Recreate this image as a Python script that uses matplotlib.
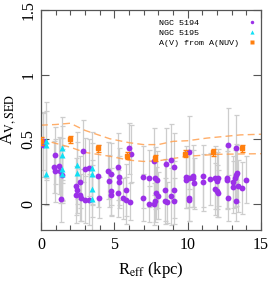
import matplotlib
matplotlib.use("Agg")
import matplotlib.pyplot as plt
import numpy as np

# NGC 5194 (purple circles)
r5194 = [0.12, 0.15, 0.93, 0.86, 0.93, 1.25, 1.30, 1.45, 1.39, 2.86, 2.66, 2.39, 2.48, 2.68, 2.41,
         2.98, 3.25, 2.98, 3.25, 2.75, 3.91, 3.93, 4.55, 4.75, 4.61, 4.75, 4.80, 5.25, 5.30, 5.30,
         5.25, 5.80, 5.60, 5.80, 6.02, 6.13, 6.10, 6.98, 6.98, 7.38, 7.38, 7.68, 7.70, 7.80, 7.90,
         7.82, 7.95, 7.75, 8.47, 8.47, 8.54, 8.60, 8.84, 8.84, 9.07, 9.07, 9.07, 9.90, 9.90, 10.10,
         10.07, 10.34, 10.40, 10.47, 10.10, 10.07, 11.06, 11.06, 11.52, 11.84, 12.05, 12.00, 11.84, 12.00, 12.05,
         12.75, 12.70, 12.70, 12.75, 13.30, 13.30, 13.40, 13.25, 13.07, 13.07, 13.43, 13.70, 13.30, 14.00]
a5194 = [0.485, 0.46, 0.377, 0.29, 0.26, 0.295, 0.26, 0.227, 0.041, 0.41, 0.17, 0.14, 0.11, 0.072, 0.072,
         0.27, 0.28, 0.036, 0.036, 0.05, 0.22, 0.05, 0.26, 0.23, 0.18, 0.10, 0.07, 0.29, 0.21, 0.17,
         0.085, 0.11, 0.045, 0.03, 0.43, 0.39, 0.02, 0.21, 0.05, 0.20, 0.0, 0.0, 0.33, 0.20, 0.19,
         0.085, 0.065, 0.026, 0.11, 0.026, 0.31, 0.015, 0.34, 0.06, 0.29, 0.11, 0.026, 0.21, 0.19, 0.40,
         0.20, 0.22, 0.20, 0.16, 0.047, 0.03, 0.22, 0.17, 0.196, 0.206, 0.206, 0.18, 0.116, 0.10, 0.085,
         0.46, 0.206, 0.19, 0.047, 0.43, 0.227, 0.24, 0.20, 0.17, 0.13, 0.14, 0.124, 0.028, 0.19]
e5194 = [0.22, 0.25, 0.22, 0.20, 0.24, 0.22, 0.25, 0.20, 0.18, 0.24, 0.20, 0.22, 0.18, 0.20, 0.22,
         0.24, 0.22, 0.18, 0.20, 0.18, 0.24, 0.16, 0.22, 0.24, 0.20, 0.18, 0.16, 0.26, 0.22, 0.20,
         0.18, 0.20, 0.16, 0.18, 0.20, 0.22, 0.14, 0.24, 0.18, 0.22, 0.14, 0.16, 0.26, 0.24, 0.22,
         0.20, 0.18, 0.16, 0.24, 0.18, 0.28, 0.16, 0.28, 0.22, 0.26, 0.22, 0.18, 0.24, 0.22, 0.28,
         0.22, 0.24, 0.22, 0.20, 0.18, 0.16, 0.24, 0.22, 0.20, 0.24, 0.22, 0.22, 0.20, 0.20, 0.18,
         0.28, 0.24, 0.22, 0.18, 0.26, 0.24, 0.22, 0.22, 0.20, 0.20, 0.20, 0.20, 0.16, 0.18]

# NGC 5195 (cyan triangles)
r5195 = [0.34, 0.38, 0.34, 1.41, 1.41, 1.41, 1.41, 2.43, 2.43, 3.50, 3.50, 3.50, 3.50]
a5195 = [0.49, 0.46, 0.23, 0.43, 0.38, 0.27, 0.23, 0.30, 0.24, 0.28, 0.23, 0.12, 0.04]
e5195 = [0.30, 0.26, 0.24, 0.24, 0.22, 0.24, 0.22, 0.26, 0.24, 0.28, 0.24, 0.22, 0.26]

# A(V) from A(NUV) (orange squares)
r_nuv = [0.00, 2.00, 3.90, 5.88, 7.80, 9.80, 11.70, 13.70]
a_nuv = [0.49, 0.50, 0.43, 0.375, 0.357, 0.39, 0.40, 0.43]
e_nuv = [0.03, 0.03, 0.03, 0.025, 0.025, 0.025, 0.025, 0.03]

# dashed envelope curves
r_env = [0, 1, 2, 3, 4.7, 6, 7, 8, 9, 10, 11.3, 13.6, 15]
env_hi = [0.61, 0.615, 0.625, 0.57, 0.505, 0.475, 0.46, 0.46, 0.485, 0.49, 0.51, 0.535, 0.54]
r_env_lo = [0, 1, 2, 3, 4.7, 6, 7, 8, 10, 12, 15]
env_lo = [0.50, 0.47, 0.44, 0.40, 0.37, 0.34, 0.33, 0.335, 0.37, 0.385, 0.39]

legend_labels = ['NGC 5194', 'NGC 5195', 'A(V) from A(NUV)']

plt.rcParams['font.family'] = ['Liberation Serif', 'DejaVu Serif']
plt.rcParams['mathtext.fontset'] = 'stix'

fig = plt.figure(figsize=(2.69, 2.82), dpi=100)
ax = fig.add_axes([0.152, 0.184, 0.818, 0.781])

ecol = '#cdcdcd'
ax.errorbar(r5194, a5194, yerr=e5194, fmt='none', ecolor=ecol, elinewidth=0.9, capsize=1.8, capthick=0.9, zorder=1)
ax.errorbar(r5195, a5195, yerr=e5195, fmt='none', ecolor=ecol, elinewidth=0.9, capsize=1.8, capthick=0.9, zorder=1)

ax.plot(r_env, env_hi, ls=(0, (5, 3)), color='#ffa050', lw=1.0, alpha=0.85, zorder=2)
ax.plot(r_env_lo, env_lo, ls=(0, (5, 3)), color='#ffa050', lw=1.0, alpha=0.85, zorder=2)

ax.errorbar(r_nuv, a_nuv, yerr=e_nuv, fmt='s', color='#ff7f0e', ecolor='#ff7f0e', ms=3.2,
            elinewidth=0.9, capsize=1.8, zorder=4)
ax.plot(r5194, a5194, 'o', color='#9b30e8', ms=4.2, mec='none', ls='none', zorder=3)
ax.plot(r5195, a5195, '^', color='#10e0f5', ms=5.0, mec='none', ls='none', zorder=3)

# legend handles
h1, = ax.plot([], [], 'o', color='#9b30e8', ms=2.5, mec='none', ls='none')
h2, = ax.plot([], [], '^', color='#10e0f5', ms=3, mec='none', ls='none')
h3, = ax.plot([], [], 's', color='#ff7f0e', ms=2.5, mec='none', ls='none')
width = max(len(s) for s in legend_labels)
padded = [s.ljust(width) for s in legend_labels]
leg = ax.legend([h1, h2, h3], padded,
                loc='upper right', markerfirst=False, frameon=False,
                prop={'family': 'Liberation Mono', 'size': 6.0},
                handlelength=1.0, handletextpad=1.1, labelspacing=0.3,
                borderaxespad=0.0, bbox_to_anchor=(0.995, 0.975))

ax.set_xlim(0, 15)
ax.set_ylim(-0.2, 1.5)
ax.set_xticks([0, 5, 10, 15])
ax.set_xticks(np.arange(0, 16, 1), minor=True)
ax.set_yticks([0, 0.5, 1, 1.5])
ax.set_yticklabels(['0', '0.5', '1', '1.5'], rotation=90, va='center')
ax.tick_params(which='both', direction='in', top=True, right=True, labelsize=11.5, color='#555555')
ax.tick_params(which='major', length=6, width=0.8)
ax.tick_params(which='minor', length=3.5, width=0.8)
ax.tick_params(axis='x', pad=5)
ax.tick_params(axis='y', pad=3)
for s in ax.spines.values():
    s.set_color('#555555')
    s.set_linewidth(0.9)

ax.set_xlabel(r'R$_{\rm eff}$ (kpc)', fontsize=12, labelpad=5)
ax.set_ylabel(r'A$_{\rm V,SED}$', fontsize=12.5, labelpad=2)

fig.savefig('out.png', dpi=100)
